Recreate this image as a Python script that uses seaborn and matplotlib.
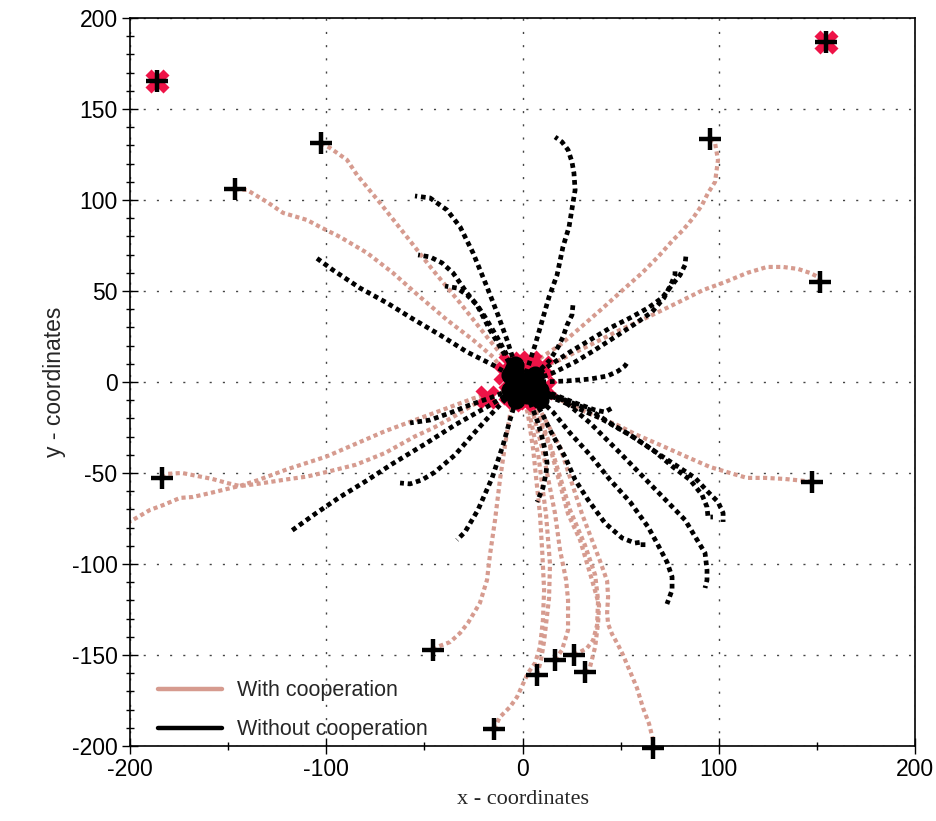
import numpy as np
import pandas as pd
import matplotlib
matplotlib.use("Agg")
import matplotlib.pyplot as plt
from matplotlib.lines import Line2D
from matplotlib.ticker import MultipleLocator
import seaborn as sns

# ---------------- data ----------------
# "With cooperation" trajectories (start -> final position)
c1_x = [-102.7, -98.1, -89.4, -84.3, -72.6, -58.9, -45.7, -31.8, -18.1, -11.5, -6.4]
c1_y = [131.3, 128.6, 122.0, 113.7, 98.4, 79.7, 61.5, 43.4, 24.7, 16.0, 10.4]
c2_x = [-146.5, -140.4, -130.2, -122.0, -109.8, -103.2, -93.0, -79.2, -66.0, -52.2, -38.5, -25.2, -15.0, -8.9]
c2_y = [106.0, 105.5, 98.9, 92.9, 89.0, 85.2, 79.7, 70.9, 59.9, 46.7, 34.1, 23.1, 13.7, 5.0]
c3_x = [95.5, 98.1, 99.6, 98.1, 94.5, 91.5, 86.9, 81.8, 76.7, 69.0, 60.9, 52.2, 41.0, 29.3, 19.1, 8.9, 3.8]
c3_y = [133.5, 131.3, 122.0, 109.9, 103.8, 97.3, 90.1, 83.5, 78.0, 68.7, 59.9, 51.6, 40.7, 29.7, 20.3, 13.0, 11.0]
c4_x = [151.6, 150.6, 146.5, 140.4, 132.7, 124.6, 114.4, 103.2, 92.0, 78.7, 64.0, 49.7, 34.4, 19.1, 9.9]
c4_y = [54.9, 57.7, 59.9, 62.1, 63.2, 63.2, 59.9, 54.9, 50.5, 43.4, 35.7, 28.6, 20.3, 12.1, 8.2]
c5_x = [147.5, 143.9, 133.8, 123.6, 114.4, 105.7, 95.5, 83.8, 70.1, 58.3, 48.2, 38.0, 27.8, 15.5, 11.5]
c5_y = [-54.9, -54.4, -53.3, -52.7, -52.7, -50.0, -46.7, -41.2, -34.6, -29.1, -23.6, -19.2, -14.3, -8.0, -3.3]
c6_x = [-183.7, -181.0, -173.5, -166.0, -158.0, -150.6, -144.0, -135.0, -120.0, -110.0, -100.0, -85.0, -70.0, -55.0, -45.0, -35.0, -25.0, -18.1]
c6_y = [-52.7, -50.5, -50.0, -51.6, -53.3, -55.5, -57.2, -56.0, -53.5, -52.0, -49.5, -45.5, -39.0, -30.0, -25.0, -19.0, -12.5, -8.2]
c7_x = [-215.0, -198.5, -189.8, -183.0, -174.5, -168.0, -159.0, -152.6, -144.0, -135.0, -120.0, -100.0, -85.0, -70.0, -55.0, -40.0, -25.0, -12.0, -6.4]
c7_y = [-85.0, -75.8, -70.3, -67.6, -63.7, -63.2, -61.0, -59.3, -57.1, -54.0, -48.0, -41.0, -34.0, -27.0, -21.0, -15.0, -9.0, -5.0, -6.0]
c8_x = [-45.6, -43.6, -36.9, -31.8, -27.8, -21.7, -18.1, -16.6, -14.0, -11.5, -8.9, -6.4, -4.0]
c8_y = [-147.3, -145.6, -142.9, -137.9, -132.4, -121.4, -108.8, -95.1, -75.8, -53.8, -34.6, -18.1, -8.0]
c9_x = [-14.5, -11.5, -6.4, -2.8, 2.8, 6.4, 8.9, 10.4, 11.0, 10.0, 8.9, 5.4, 2.8, 1.0]
c9_y = [-190.7, -184.1, -178.6, -173.1, -159.9, -154.4, -145.6, -130.8, -114.3, -92.3, -73.0, -36.8, -18.0, -10.0]
c10_x = [7.4, 9.4, 11.0, 13.5, 14.0, 12.0, 8.0, 4.0, 3.0]
c10_y = [-161.0, -153.0, -142.3, -119.0, -100.0, -73.0, -40.0, -20.0, -9.0]
c11_x = [16.6, 20.1, 23.2, 23.2, 22.2, 19.1, 16.6, 10.0, 5.0, 5.4]
c11_y = [-152.7, -147.3, -136.3, -119.8, -108.8, -92.3, -72.5, -36.3, -15.4, -8.2]
c12_x = [26.2, 29.3, 32.9, 36.0, 38.0, 38.5, 37.0, 31.8, 24.2, 15.0, 7.4, 6.0]
c12_y = [-150.0, -148.4, -146.2, -141.8, -133.5, -119.8, -106.0, -89.6, -70.3, -37.4, -15.4, -7.0]
c13_x = [31.8, 34.4, 37.0, 38.5, 39.0, 35.4, 29.3, 23.2, 14.0, 6.4, 4.0]
c13_y = [-159.3, -156.6, -145.6, -132.4, -122.5, -108.8, -86.8, -72.5, -35.7, -15.4, -7.0]
c14_x = [66.5, 66.5, 64.5, 61.4, 58.3, 55.3, 51.2, 48.7, 45.6, 43.6, 43.1, 43.6, 43.1, 39.5, 30.3, 19.1, 8.9, 7.0]
c14_y = [-201.1, -196.7, -187.9, -179.1, -168.1, -160.4, -150.0, -144.5, -138.5, -133.0, -126.9, -118.1, -109.3, -98.4, -72.5, -35.7, -15.4, -6.0]

# "Without cooperation" trajectories (leaving the centre)
b1_x = [-1.0, 2.3, 6.4, 10.4, 13.5, 17.6, 20.6, 23.7, 25.7, 26.8, 26.2, 25.2, 23.2, 20.1, 16.6]
b1_y = [1.0, 6.6, 20.3, 35.2, 46.7, 58.8, 74.2, 85.2, 98.4, 105.5, 114.8, 120.9, 127.5, 131.9, 134.6]
b2_x = [-3.8, -7.9, -12.5, -18.1, -25.2, -31.8, -38.5, -47.1, -54.8]
b2_y = [9.3, 23.1, 36.8, 52.2, 70.9, 85.2, 94.5, 101.1, 102.2]
b3_x = [-4.8, -9.9, -16.6, -23.2, -28.3, -35.4, -41.0, -47.1, -53.2]
b3_y = [6.6, 16.5, 28.6, 42.3, 48.9, 59.9, 65.4, 68.7, 69.8]
b4_x = [-3.8, -7.4, -13.0, -19.1, -23.2, -28.3, -33.4, -39.5]
b4_y = [6.6, 13.7, 24.7, 35.7, 42.3, 47.8, 51.6, 52.7]
b5_x = [-6.4, -15.0, -28.3, -42.0, -55.8, -69.0, -82.8, -96.6, -105.7]
b5_y = [3.8, 9.3, 16.5, 25.8, 34.6, 43.4, 51.6, 61.5, 68.7]
b6_x = [-5.4, -19.1, -34.4, -49.7, -66.5, -79.7, -93.0, -105.7, -118.5]
b6_y = [-5.5, -14.3, -23.6, -34.1, -45.1, -54.4, -63.2, -72.5, -82.4]
b7_x = [-5.4, -14.0, -24.2, -34.4, -44.6, -51.2, -57.3, -62.4]
b7_y = [-6.0, -15.4, -27.5, -40.1, -49.5, -53.8, -56.0, -55.5]
b8_x = [-6.4, -16.6, -26.8, -36.9, -47.1, -57.3]
b8_y = [-4.4, -8.8, -12.6, -17.0, -20.9, -22.5]
b9_x = [-3.3, -6.4, -9.9, -15.5, -22.7, -29.3, -33.4]
b9_y = [-9.9, -20.9, -34.6, -52.7, -70.3, -82.4, -86.8]
b10_x = [2.3, 5.4, 7.9, 9.9, 11.5, 12.5, 12.0, 10.4, 7.4]
b10_y = [-7.1, -15.4, -22.5, -30.2, -37.4, -44.5, -50.0, -58.2, -65.9]
b11_x = [4.0, 10.4, 14.0, 17.6, 21.7, 26.8, 33.4, 42.0, 50.7, 57.3, 61.4, 61.4]
b11_y = [-6.0, -18.1, -26.4, -33.5, -41.2, -53.8, -64.8, -77.5, -85.7, -88.5, -87.9, -90.7]
b12_x = [8.9, 15.5, 24.2, 34.4, 44.6, 54.8, 64.0, 68.5, 73.6, 76.2, 76.2, 73.6]
b12_y = [-9.9, -16.5, -28.0, -40.1, -53.8, -65.9, -79.7, -88.5, -98.9, -107.1, -114.3, -122.0]
b13_x = [6.4, 20.6, 34.4, 49.7, 66.5, 82.8, 93.0, 94.0, 94.0, 93.0]
b13_y = [-5.5, -9.9, -22.5, -39.0, -57.7, -75.8, -94.0, -103.3, -108.8, -113.2]
b14_x = [8.9, 21.7, 34.4, 46.1, 56.3, 66.5, 76.7, 85.4, 91.5, 94.0, 94.5, 97.0]
b14_y = [-4.4, -9.9, -15.4, -23.6, -30.2, -37.4, -46.7, -53.8, -62.1, -68.7, -74.2, -74.2]
b15_x = [8.9, 24.2, 39.5, 54.8, 70.1, 80.3, 87.9, 94.5, 99.6, 102.2, 102.2]
b15_y = [-6.0, -12.6, -19.8, -29.1, -40.1, -47.3, -52.7, -60.4, -65.9, -72.0, -76.9]
b16_x = [6.4, 16.6, 26.8, 36.9, 42.0, 45.6]
b16_y = [-3.3, -7.1, -11.5, -15.4, -16.5, -14.3]
b17_x = [1.0, 8.9, 21.7, 34.4, 43.3, 48.7, 52.2, 53.2]
b17_y = [-1.0, 0.0, 0.5, 1.6, 3.3, 6.0, 8.8, 10.4]
b18_x = [6.4, 14.0, 18.1, 20.6, 22.7, 25.2, 25.7]
b18_y = [3.8, 12.1, 19.2, 24.7, 31.3, 36.8, 42.3]
b19_x = [5.4, 14.0, 24.2, 34.4, 44.6, 54.8, 64.0, 71.1, 76.2, 80.3, 82.8, 83.3]
b19_y = [2.7, 9.3, 16.5, 23.1, 29.7, 35.2, 40.7, 46.2, 53.3, 58.8, 64.3, 69.8]
b20_x = [6.4, 16.6, 26.8, 36.9, 47.1, 57.3, 66.0, 72.1, 75.7, 77.7, 77.7]
b20_y = [1.1, 5.5, 11.0, 17.6, 24.7, 31.9, 38.5, 46.2, 53.8, 58.8, 62.6]

# agent start positions ("+") and agents that never moved
start_x = [-102.7, -146.5, 95.5, 151.6, 147.5, -183.7, -45.6, -14.5, 7.4, 16.6, 26.2, 31.8, 66.5, -186.0, 154.6]
start_y = [131.3, 106.0, 133.5, 54.9, -54.9, -52.7, -147.3, -190.7, -161.0, -152.7, -150.0, -159.3, -201.1, 165.4, 186.8]
static_x = [-186.0, 154.6]
static_y = [165.4, 186.8]

legend_labels = ["With cooperation", "Without cooperation"]
x_ticks = [-200, -100, 0, 100, 200]
y_ticks = [-200, -150, -100, -50, 0, 50, 100, 150, 200]

coop = [(c1_x, c1_y), (c2_x, c2_y), (c3_x, c3_y), (c4_x, c4_y), (c5_x, c5_y), (c6_x, c6_y),
        (c7_x, c7_y), (c8_x, c8_y), (c9_x, c9_y), (c10_x, c10_y), (c11_x, c11_y), (c12_x, c12_y),
        (c13_x, c13_y), (c14_x, c14_y)]
noco = [(b1_x, b1_y), (b2_x, b2_y), (b3_x, b3_y), (b4_x, b4_y), (b5_x, b5_y), (b6_x, b6_y),
        (b7_x, b7_y), (b8_x, b8_y), (b9_x, b9_y), (b10_x, b10_y), (b11_x, b11_y), (b12_x, b12_y),
        (b13_x, b13_y), (b14_x, b14_y), (b15_x, b15_y), (b16_x, b16_y), (b17_x, b17_y),
        (b18_x, b18_y), (b19_x, b19_y), (b20_x, b20_y)]


def to_frame(trajs):
    rows = []
    for k, (xs, ys) in enumerate(trajs):
        for i, (xv, yv) in enumerate(zip(xs, ys)):
            rows.append({"x": xv, "y": yv, "traj": k, "step": i})
    return pd.DataFrame(rows)


df_c = to_frame(coop)
df_b = to_frame(noco)
ends_c = df_c.groupby("traj").tail(1)
starts_b = df_b[df_b["step"] == 0]
df_start = pd.DataFrame({"x": start_x, "y": start_y})
df_static = pd.DataFrame({"x": static_x, "y": static_y})

# ---------------- style ----------------
sns.set_theme(style="white")
plt.rcParams["font.family"] = ["Liberation Sans", "DejaVu Sans"]
plt.rcParams["axes.unicode_minus"] = False

SALMON = "#d69b8f"
RED = "#ee1347"

fig = plt.figure(figsize=(9.36, 8.21), dpi=100)
ax = fig.add_axes([0.1389, 0.0914, 0.8387, 0.8867])

dot_style = (0, (1, 0.8))

sns.lineplot(data=df_c, x="x", y="y", units="traj", estimator=None, sort=False,
             color=SALMON, linewidth=3.0, linestyle=dot_style, legend=False, ax=ax, zorder=2)
sns.scatterplot(data=ends_c, x="x", y="y", marker="X", s=300, color=RED, edgecolor=RED,
                linewidth=0, legend=False, ax=ax, zorder=3)
sns.scatterplot(data=df_static, x="x", y="y", marker="X", s=300, color=RED, edgecolor=RED,
                linewidth=0, legend=False, ax=ax, zorder=3)
sns.lineplot(data=df_b, x="x", y="y", units="traj", estimator=None, sort=False,
             color="black", linewidth=3.4, linestyle=dot_style, legend=False, ax=ax, zorder=4)
sns.scatterplot(data=starts_b, x="x", y="y", marker="o", s=170, color="black", edgecolor="black",
                linewidth=0, legend=False, ax=ax, zorder=4)
sns.scatterplot(data=df_start, x="x", y="y", marker="+", s=240, color="black",
                linewidth=3.2, legend=False, ax=ax, zorder=6, clip_on=False)

ax.set_xlim(-200, 200)
ax.set_ylim(-200, 200)
ax.set_xticks(x_ticks)
ax.set_yticks(y_ticks)
ax.xaxis.set_minor_locator(MultipleLocator(50))
ax.yaxis.set_minor_locator(MultipleLocator(10))
ax.tick_params(which="major", direction="inout", length=12, width=1, labelsize=16.5,
               color="black", labelcolor="black", pad=3, bottom=True, left=True)
ax.tick_params(which="minor", direction="inout", length=6, width=1, color="black",
               bottom=True, left=True)
ax.grid(True, which="major", color="#444444", linestyle=(0, (1.5, 8)), linewidth=1.0)
for sp in ax.spines.values():
    sp.set_visible(True)
    sp.set_color("black")
    sp.set_linewidth(1.2)

ax.set_xlabel("x - coordinates", fontsize=16, family=["Liberation Serif", "DejaVu Serif"], labelpad=6)
ax.set_ylabel("y - coordinates", fontsize=16.5, labelpad=4)

handles = [Line2D([0], [0], color=SALMON, lw=3.2), Line2D([0], [0], color="black", lw=3.2)]
ax.legend(handles, legend_labels, loc="lower left", bbox_to_anchor=(0.005, -0.025), frameon=False,
          fontsize=15.5, handlelength=3.0, handletextpad=0.7, labelspacing=0.85, borderpad=0.3,
          borderaxespad=0.8)

fig.savefig("out.png", dpi=100)
